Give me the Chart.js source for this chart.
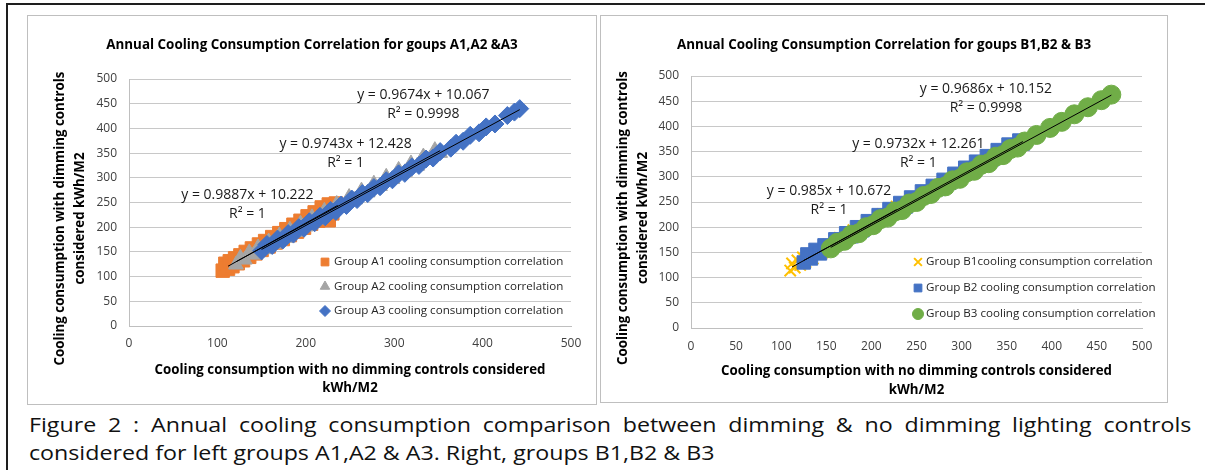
<!DOCTYPE html>
<html>
<head>
<meta charset="utf-8">
<script src="https://cdn.jsdelivr.net/npm/chart.js@4.4.1/dist/chart.umd.min.js"></script>
<style>
  html, body { margin: 0; padding: 0; background: #fff; }
  body { width: 1205px; height: 470px; position: relative; overflow: hidden; font-family: "Open Sans", sans-serif; }
  #frameTop { position: absolute; left: 6px; top: 3px; width: 1199px; height: 2px; background: #1e1e1e; }
  #frameLeft { position: absolute; left: 6px; top: 3px; width: 2px; height: 467px; background: #1e1e1e; }
  .box { position: absolute; border: 1px solid #bfbfbf; box-sizing: border-box; }
  .box canvas { display: block; }
  #boxA { left: 27px; top: 15px; width: 570px; height: 390px; }
  #boxB { left: 600px; top: 15px; width: 568px; height: 388px; }
  #caption { position: absolute; left: 29px; top: 411px; width: 1002px; font-size: 20px; line-height: 28px; color: #111;
    transform: scaleX(1.16); transform-origin: 0 0; }
  #caption .l1 { text-align: justify; text-align-last: justify; }
</style>
</head>
<body>
<div id="frameTop"></div>
<div id="frameLeft"></div>
<div class="box" id="boxA"><canvas id="chartA" width="568" height="388"></canvas></div>
<div class="box" id="boxB"><canvas id="chartB" width="566" height="386"></canvas></div>
<div id="caption">
  <div class="l1">Figure 2 : Annual cooling consumption comparison between dimming &amp; no dimming lighting controls</div>
  <div>considered for left groups A1,A2 &amp; A3. Right, groups B1,B2 &amp; B3</div>
</div>
<script>
// ---- data ----
const groupA1 = [[106,112],[109,126],[112,116],[114,131],[117,121],[120,137],[123,127],[126,143],[129,133],[132,150],
  [136,140],[139,157],[143,147],[147,165],[150,154],[154,172],[158,161],[162,180],[166,169],[170,188],[174,176],
  [178,196],[182,184],[186,205],[190,191],[194,213],[198,199],[202,222],[206,207],[210,230],[214,213],[218,240],
  [222,221],[226,246],[226,214],[230,228],[234,248]];
const groupA2 = [[121,124],[126,138],[131,134],[136,149],[141,144],[146,159],[152,155],[158,171],[164,166],[170,183],
  [176,178],[182,195],[188,190],[194,207],[200,201],[207,220],[214,215],[221,233],[228,229],[235,247],[242,242],
  [249,261],[256,256],[263,274],[270,270],[277,288],[284,283],[291,302],[298,297],[305,316],[312,311],[319,329],
  [326,324],[333,343],[340,338],[346,356],[352,350]];
const groupA3 = [[150,152],[156,165],[162,163],[168,176],[174,174],[180,187],[186,186],[192,199],[198,198],[204,211],
  [210,209],[216,222],[222,221],[228,234],[234,232],[240,245],[246,244],[252,257],[258,256],[264,268],[270,268],
  [277,280],[284,282],[291,294],[298,296],[305,308],[312,309],[320,322],[328,325],[336,338],[344,340],[352,353],
  [364,360],[370,370],[378,374],[386,386],[396,391],[404,403],[414,409],[428,426],[436,433],[442,440]];
const trendA1 = [[112,121],[236,244]];
const trendA2 = [[121,130],[352,355]];
const trendA3 = [[150,155],[442,438]];

const groupB1 = [[110,114],[112,128],[115,120],[118,134],[121,125],[124,140],[127,131],[131,146],[135,138],[140,155],
  [146,150],[152,166],[158,162],[165,179],[172,176],[180,194],[188,191],[196,210],[204,207],[212,226],[220,223],[228,241]];
const groupB2 = [[125,130],[129,146],[133,138],[138,155],[143,148],[148,164],[154,159],[160,176],[166,170],[172,188],
  [178,182],[184,200],[190,194],[196,212],[202,206],[208,224],[214,218],[220,236],[226,230],[232,248],[238,241],
  [244,259],[250,253],[256,271],[262,265],[268,282],[274,276],[280,294],[286,288],[292,306],[298,300],[304,318],
  [310,312],[316,330],[322,323],[328,341],[334,335],[340,353],[346,346],[352,364],[358,357],[364,372],[368,366]];
const groupB3 = [[155,158],[162,169],[170,173],[178,185],[186,188],[194,200],[202,204],[210,216],[218,219],[226,231],
  [234,234],[242,247],[250,250],[258,262],[266,266],[274,278],[282,281],[290,293],[298,296],[306,309],[314,312],
  [322,324],[330,327],[338,340],[346,343],[354,355],[362,358],[370,370],[383,383],[398,397],[411,409],[425,424],
  [440,438],[455,452],[466,463]];
const trendB1 = [[112,121],[228,235]];
const trendB2 = [[125,134],[368,370]];
const trendB3 = [[155,160],[466,462]];

const ticksA_x = 100, ticksB_x = 50, ticksY = 50;
const equationsA = [
  ['y = 0.9887x + 10.222', 'R\u00B2 = 1'],
  ['y = 0.9743x + 12.428', 'R\u00B2 = 1'],
  ['y = 0.9674x + 10.067', 'R\u00B2 = 0.9998']
];
const equationsB = [
  ['y = 0.985x + 10.672', 'R\u00B2 = 1'],
  ['y = 0.9732x + 12.261', 'R\u00B2 = 1'],
  ['y = 0.9686x + 10.152', 'R\u00B2 = 0.9998']
];

const FONT = '"Open Sans", sans-serif';
const ORANGE = '#ED7D31', GRAY = '#A5A5A5', BLUE = '#4472C4', GOLD = '#FFC000', GREEN = '#70AD47';

// draws titles, trendline equations and the in-plot legend
const chartText = {
  id: 'chartText',
  afterDraw(chart, args, o) {
    const ctx = chart.ctx, area = chart.chartArea;
    const xs = chart.scales.x, ys = chart.scales.y;
    ctx.save();
    ctx.fillStyle = '#000';
    ctx.textAlign = 'center';
    ctx.textBaseline = 'middle';

    ctx.font = 'bold ' + o.titleSize + 'px ' + FONT;
    ctx.fillText(o.title, chart.width / 2, o.titleY);

    ctx.font = 'bold ' + o.axisSize + 'px ' + FONT;
    const xc = (area.left + area.right) / 2;
    o.xTitle.forEach((t, i) => ctx.fillText(t, xc, o.xTitleY + i * o.xTitleGap));

    ctx.save();
    ctx.translate(o.yTitleX, (area.top + area.bottom) / 2 + o.yTitleShift);
    ctx.rotate(-Math.PI / 2);
    o.yTitle.forEach((t, i) => ctx.fillText(t, 0, i * o.yTitleGap));
    ctx.restore();

    ctx.font = o.eqSize + 'px ' + FONT;
    ctx.fillStyle = '#1a1a1a';
    o.equations.forEach((eq, i) => {
      const at = o.eqAt[i];
      const px = xs.getPixelForValue(at[0]), py = ys.getPixelForValue(at[1]);
      ctx.fillText(eq[0], px, py);
      ctx.fillText(eq[1], px, py + o.eqGap);
    });

    // legend
    ctx.font = o.legendSize + 'px ' + FONT;
    ctx.textAlign = 'left';
    const items = chart.data.datasets.filter(d => d.legend);
    items.forEach((d, i) => {
      const y = o.legendY + i * o.legendGap;
      ctx.fillStyle = d.backgroundColor;
      ctx.strokeStyle = d.borderColor;
      ctx.lineWidth = d.borderWidth;
      Chart.helpers.drawPoint(ctx, { pointStyle: d.pointStyle, radius: o.legendMarker, borderWidth: d.borderWidth, rotation: 0 }, o.legendX, y);
      ctx.fillStyle = '#262626';
      ctx.fillText(d.label, o.legendX + o.legendTextGap, y);
    });
    ctx.restore();
  }
};

function points(arr, label, style, color, radius, order) {
  return {
    label: label, data: arr, legend: true, order: order,
    pointStyle: style, pointRadius: radius, pointHoverRadius: radius,
    backgroundColor: color, borderColor: color, borderWidth: style === 'crossRot' ? 2 : 1
  };
}
function trend(arr) {
  return { data: arr, showLine: true, pointRadius: 0, borderColor: '#000', borderWidth: 1, order: 0 };
}

function makeChart(id, datasets, stepX, layout, text) {
  const tickFont = { family: FONT, size: 12 };
  return new Chart(document.getElementById(id), {
    type: 'scatter',
    data: { datasets: datasets },
    options: {
      responsive: false,
      animation: false,
      events: [],
      layout: { padding: { left: 0, top: layout.top, right: layout.right, bottom: 0 } },
      scales: {
        x: {
          min: 0, max: 500,
          ticks: { stepSize: stepX, autoSkip: false, maxRotation: 0, color: '#404040', font: tickFont, padding: layout.xPad },
          grid: { display: false, drawTicks: false },
          border: { display: true, color: '#bfbfbf' },
          afterFit: s => { s.height = layout.xH; }
        },
        y: {
          min: 0, max: 500,
          ticks: { stepSize: ticksY, color: '#404040', font: tickFont, padding: layout.yPad },
          grid: { color: '#c8c8c8', drawTicks: false },
          border: { display: true, color: '#bfbfbf' },
          afterFit: s => { s.width = layout.yW; }
        }
      },
      plugins: {
        legend: { display: false },
        tooltip: { enabled: false },
        chartText: text
      }
    },
    plugins: [chartText]
  });
}

const chartA = makeChart('chartA', [
  trend(trendA1), trend(trendA2), trend(trendA3),
  points(groupA1, 'Group A1 cooling consumption correlation', 'rect', ORANGE, 9.5, 4),
  points(groupA2, 'Group A2 cooling consumption correlation', 'triangle', GRAY, 8.5, 3),
  points(groupA3, 'Group A3 cooling consumption correlation', 'rectRot', BLUE, 9, 2)
], ticksA_x, { top: 63, right: 25, xH: 78, yW: 101, xPad: 10, yPad: 12 }, {
  title: 'Annual Cooling Consumption Correlation for goups A1,A2 &A3', titleSize: 13.4, titleY: 29,
  axisSize: 13.3,
  xTitle: ['Cooling consumption with no dimming controls considered', 'kWh/M2'], xTitleY: 354, xTitleGap: 18,
  yTitle: ['Cooling consumption with dimming controls', 'considered kWh/M2'], yTitleX: 32, yTitleGap: 20, yTitleShift: 16,
  equations: equationsA, eqAt: [[134, 265], [245, 368], [333, 467]], eqSize: 14, eqGap: 19,
  legendX: 297, legendY: 246, legendGap: 24.5, legendMarker: 5.5, legendTextGap: 9, legendSize: 11.6
});

const chartB = makeChart('chartB', [
  trend(trendB1), trend(trendB2), trend(trendB3),
  points(groupB1, 'Group B1cooling consumption correlation', 'crossRot', GOLD, 8, 4),
  points(groupB2, 'Group B2 cooling consumption correlation', 'rect', BLUE, 9.5, 3),
  points(groupB3, 'Group B3 cooling consumption correlation', 'circle', GREEN, 9.5, 2)
], ticksB_x, { top: 60, right: 25, xH: 74, yW: 90, xPad: 11, yPad: 12 }, {
  title: 'Annual Cooling Consumption Correlation for goups B1,B2 & B3', titleSize: 13.4, titleY: 29,
  axisSize: 13.3,
  xTitle: ['Cooling consumption with no dimming controls considered', 'kWh/M2'], xTitleY: 355, xTitleGap: 19,
  yTitle: ['Cooling consumption with dimming controls', 'considered kWh/M2'], yTitleX: 22, yTitleGap: 20, yTitleShift: 16,
  equations: equationsB, eqAt: [[153, 272], [252, 366], [327, 475]], eqSize: 14, eqGap: 19,
  legendX: 317, legendY: 246, legendGap: 26, legendMarker: 5.5, legendTextGap: 8, legendSize: 11.6
});
</script>
</body>
</html>
